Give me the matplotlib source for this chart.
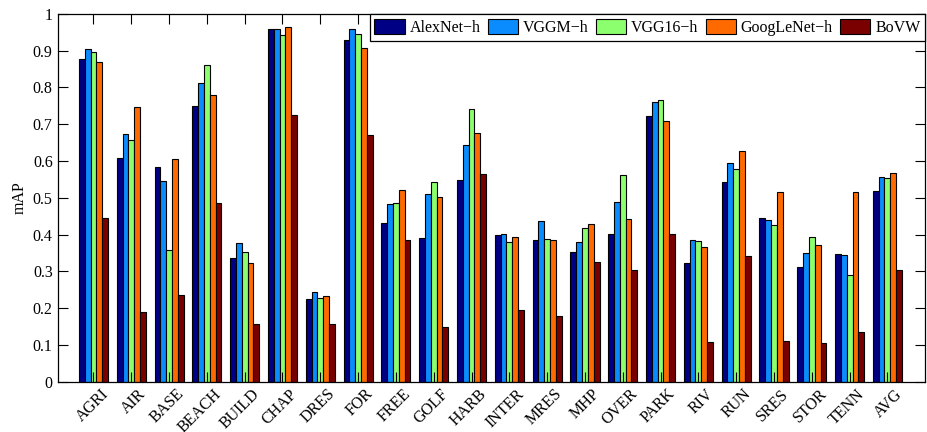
import matplotlib.pyplot as plt
import matplotlib.transforms as mtransforms
import numpy as np

plt.rcParams["font.family"] = ["Liberation Serif", "DejaVu Serif"]

CATEGORIES = ["AGRI", "AIR", "BASE", "BEACH", "BUILD", "CHAP", "DRES", "FOR",
              "FREE", "GOLF", "HARB", "INTER", "MRES", "MHP", "OVER", "PARK",
              "RIV", "RUN", "SRES", "STOR", "TENN", "AVG"]

alexnet_h = [0.878, 0.607, 0.585, 0.750, 0.337, 0.958, 0.225, 0.928, 0.433, 0.390, 0.548,
             0.398, 0.385, 0.352, 0.403, 0.723, 0.324, 0.542, 0.446, 0.312, 0.348, 0.518]
vggm_h = [0.905, 0.673, 0.545, 0.812, 0.378, 0.958, 0.243, 0.960, 0.482, 0.510, 0.643,
          0.402, 0.437, 0.380, 0.490, 0.760, 0.385, 0.595, 0.440, 0.350, 0.345, 0.557]
vgg16_h = [0.897, 0.658, 0.358, 0.862, 0.353, 0.942, 0.227, 0.945, 0.487, 0.542, 0.742,
           0.380, 0.388, 0.417, 0.563, 0.765, 0.382, 0.578, 0.425, 0.393, 0.290, 0.553]
googlenet_h = [0.870, 0.748, 0.605, 0.780, 0.322, 0.963, 0.233, 0.907, 0.520, 0.502, 0.675,
               0.395, 0.385, 0.430, 0.443, 0.710, 0.367, 0.628, 0.515, 0.372, 0.515, 0.567]
bovw = [0.445, 0.190, 0.235, 0.487, 0.158, 0.725, 0.157, 0.672, 0.385, 0.150, 0.565,
        0.195, 0.178, 0.325, 0.303, 0.403, 0.108, 0.343, 0.112, 0.107, 0.135, 0.303]

SERIES = [alexnet_h, vggm_h, vgg16_h, googlenet_h, bovw]
LABELS = ["AlexNet\u2212h", "VGGM\u2212h", "VGG16\u2212h", "GoogLeNet\u2212h", "BoVW"]
COLORS = ["#000085", "#0A8CFF", "#8CFF6E", "#FF6A00", "#7A0000"]

fig = plt.figure(figsize=(9.28, 4.32), dpi=100)
ax = fig.add_axes([0.062, 0.116, 0.935, 0.852])

x = np.arange(1, len(CATEGORIES) + 1)
width = 0.154
n = len(SERIES)
for i, (vals, lab, col) in enumerate(zip(SERIES, LABELS, COLORS)):
    ax.bar(x + (i - (n - 1) / 2) * width, vals, width, color=col, label=lab,
           edgecolor="black", linewidth=0.8)

ax.set_xlim(0.05, len(CATEGORIES) + 1)
ax.set_ylim(0, 1)
ax.set_yticks(np.arange(0, 1.01, 0.1))
ax.set_yticklabels(["0"] + [f"{v:.1f}" for v in np.arange(0.1, 0.95, 0.1)] + ["1"])
ax.set_xticks(x)
ax.set_xticklabels(CATEGORIES, rotation=45, ha="right", rotation_mode="anchor")
ax.tick_params(direction="in", top=True, right=True, labelsize=11.5, length=7, width=0.8)
ax.tick_params(axis="x", pad=3)
ax.set_ylabel("mAP", fontsize=11.5)
for s in ax.spines.values():
    s.set_linewidth(0.9)

# nudge rotated category labels so their ends sit just right of the ticks
shift = mtransforms.ScaledTranslation(5 / 72, 0, fig.dpi_scale_trans)
for lbl in ax.get_xticklabels():
    lbl.set_transform(lbl.get_transform() + shift)

leg = ax.legend(ncol=5, loc="upper right", bbox_to_anchor=(1.0, 1.0), fontsize=11.5,
                fancybox=False, framealpha=1, edgecolor="black", borderaxespad=0,
                handlelength=1.9, handleheight=1.1, handletextpad=0.3,
                columnspacing=0.45, borderpad=0.3)
leg.get_frame().set_linewidth(0.9)

fig.savefig("out.png", dpi=100)
